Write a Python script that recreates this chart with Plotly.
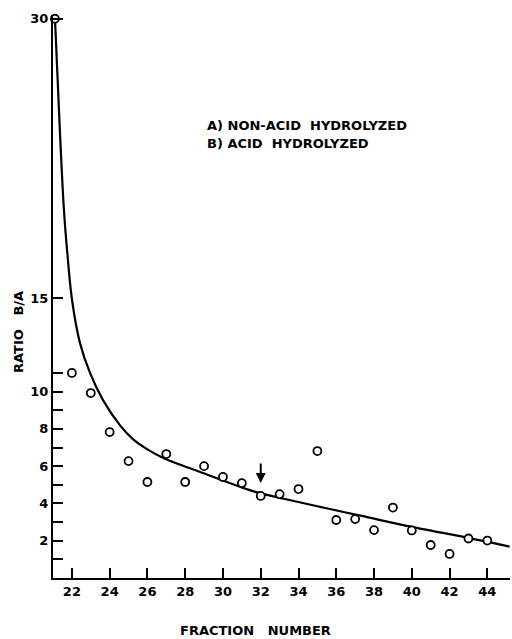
import plotly.graph_objects as go

# ---- data ----
fractions = [21.1, 22, 23, 24, 25, 26, 27, 28, 29, 30, 31, 32, 33, 34, 35,
             36, 37, 38, 39, 40, 41, 42, 43, 44]
ratio_ba = [30.0, 11.0, 9.92, 7.83, 6.27, 5.15, 6.65, 5.15, 6.0, 5.42, 5.09,
            4.4, 4.5, 4.77, 6.81, 3.11, 3.16, 2.57, 3.78, 2.55, 1.77, 1.29,
            2.12, 2.01]

curve_x = [21.1, 21.37, 21.58, 21.77, 22.01, 22.43, 22.96, 23.65, 24.54,
           25.23, 26.0, 26.82, 28.94, 31.58, 33.28, 35.66, 37.35, 39.73,
           42.9, 44.28, 45.18]
curve_y = [30.1, 23.86, 19.73, 17.3, 14.9, 12.6, 11.0, 9.54, 8.2, 7.45, 6.9,
           6.45, 5.63, 4.66, 4.24, 3.7, 3.33, 2.8, 2.17, 1.88, 1.68]

x_ticks = [22, 24, 26, 28, 30, 32, 34, 36, 38, 40, 42, 44]
y_ticks = [1, 2, 3, 4, 5, 6, 7, 8, 9, 10, 11, 15, 30]
y_ticktext = ["", "2", "", "4", "", "6", "", "8", "", "10", "", "15", "30"]

arrow_x = 32
arrow_head_y = 5.09
arrow_tail_y = 6.22

legend_lines = ["A) NON-ACID\u00a0 HYDROLYZED", "B) ACID\u00a0 HYDROLYZED"]

FONT = "DejaVu Sans"
tickfont = dict(family=FONT, size=13, color="black", weight="bold")

fig = go.Figure()
fig.add_trace(go.Scatter(
    x=curve_x, y=curve_y, mode="lines",
    line=dict(color="black", width=2.2, shape="spline", smoothing=1.0),
    hoverinfo="skip", cliponaxis=False))
fig.add_trace(go.Scatter(
    x=fractions, y=ratio_ba, mode="markers",
    marker=dict(symbol="circle", size=8, color="white",
                line=dict(color="black", width=1.8)),
    cliponaxis=False))

fig.update_layout(
    width=512, height=639,
    margin=dict(l=53, r=2, t=15, b=61),
    paper_bgcolor="white", plot_bgcolor="white",
    showlegend=False,
    xaxis=dict(range=[21, 45.2], showgrid=False, zeroline=False,
               showline=True, linecolor="black", linewidth=2,
               ticks="inside", ticklen=10, tickwidth=2, tickcolor="black",
               tickvals=x_ticks, tickfont=tickfont),
    yaxis=dict(range=[0, 30.2], showgrid=False, zeroline=False,
               showline=True, linecolor="black", linewidth=2,
               ticks="inside", ticklen=10, tickwidth=2, tickcolor="black",
               tickvals=y_ticks, ticktext=y_ticktext, tickfont=tickfont),
)

annots = [
    dict(x=0.444, y=-0.0924, xref="paper", yref="paper",
         text="FRACTION\u00a0\u00a0 NUMBER", showarrow=False,
         xanchor="center", yanchor="middle", font=tickfont),
    dict(x=-0.0744, y=0.437, xref="paper", yref="paper",
         text="RATIO\u00a0\u00a0 B/A", showarrow=False, textangle=-90,
         xanchor="center", yanchor="middle", font=tickfont),
    dict(x=0.3326, y=0.8046, xref="paper", yref="paper",
         text=legend_lines[0], showarrow=False,
         xanchor="left", yanchor="middle", font=tickfont),
    dict(x=0.3326, y=0.771, xref="paper", yref="paper",
         text=legend_lines[1], showarrow=False,
         xanchor="left", yanchor="middle", font=tickfont),
    dict(x=arrow_x, y=arrow_head_y, ax=arrow_x, ay=arrow_tail_y,
         xref="x", yref="y", axref="x", ayref="y", text="",
         showarrow=True, arrowhead=2, arrowsize=1, arrowwidth=2,
         arrowcolor="black"),
]
fig.update_layout(annotations=annots)

fig.write_html("out.html")
